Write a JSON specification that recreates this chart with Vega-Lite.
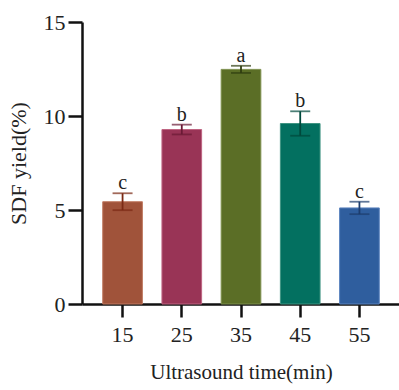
{
  "$schema": "https://vega.github.io/schema/vega-lite/v6.json",
  "autosize": "none",
  "width": 318,
  "height": 282,
  "padding": {"left": 82, "top": 22, "right": 0, "bottom": 86},
  "background": "white",
  "config": {
    "view": {"stroke": null},
    "font": "Liberation Serif",
    "axis": {
      "domainColor": "#111111",
      "domainWidth": 2.5,
      "tickColor": "#111111",
      "tickWidth": 2.5,
      "tickSize": 13,
      "grid": false,
      "labelFont": "Liberation Serif",
      "labelFontSize": 22,
      "labelColor": "#222222",
      "titleFont": "Liberation Serif",
      "titleFontWeight": "normal",
      "titleColor": "#222222"
    }
  },
  "data": {
    "values": [
      {"time": "15", "yield": 5.44, "sd": 0.45, "letter": "c"},
      {"time": "25", "yield": 9.28, "sd": 0.26, "letter": "b"},
      {"time": "35", "yield": 12.48, "sd": 0.19, "letter": "a"},
      {"time": "45", "yield": 9.6, "sd": 0.65, "letter": "b"},
      {"time": "55", "yield": 5.11, "sd": 0.33, "letter": "c"}
    ]
  },
  "transform": [
    {"calculate": "datum.yield - datum.sd", "as": "lo"},
    {"calculate": "datum.yield + datum.sd", "as": "hi"}
  ],
  "encoding": {
    "x": {
      "field": "time",
      "type": "ordinal",
      "scale": {"paddingInner": 0.33, "paddingOuter": 0.35},
      "axis": {"labelAngle": 0, "labelPadding": 7, "title": "Ultrasound time(min)", "titleFontSize": 21, "titlePadding": 16}
    }
  },
  "layer": [
    {
      "mark": {"type": "bar", "strokeWidth": 1},
      "encoding": {
        "y": {
          "field": "yield",
          "type": "quantitative",
          "scale": {"domain": [0, 15], "nice": false},
          "axis": {"values": [0, 5, 10, 15], "title": "SDF yield(%)", "titleFontSize": 22, "labelPadding": 3, "titlePadding": 13, "tickSize": 14}
        },
        "color": {
          "field": "time",
          "type": "nominal",
          "scale": {"range": ["#A0533A", "#993456", "#5B6E26", "#037060", "#2F5E9E"]},
          "legend": null
        },
        "stroke": {
          "field": "time",
          "type": "nominal",
          "scale": {"range": ["#C07A62", "#BE6482", "#7E904E", "#3F9482", "#5A83BE"]},
          "legend": null
        }
      }
    },
    {
      "mark": {"type": "rule", "strokeWidth": 1.8},
      "encoding": {
        "y": {"field": "lo", "type": "quantitative", "scale": {"domain": [0, 15], "nice": false}},
        "y2": {"field": "hi"},
        "color": {
          "field": "time",
          "type": "nominal",
          "scale": {"range": ["#7B2A14", "#6A1A35", "#2F3D10", "#00493C", "#1D3D6E"]},
          "legend": null
        }
      }
    },
    {
      "mark": {"type": "tick", "thickness": 1.8, "size": 20, "orient": "horizontal"},
      "encoding": {
        "y": {"field": "lo", "type": "quantitative", "scale": {"domain": [0, 15], "nice": false}},
        "color": {
          "field": "time",
          "type": "nominal",
          "scale": {"range": ["#7B2A14", "#6A1A35", "#2F3D10", "#00493C", "#1D3D6E"]},
          "legend": null
        }
      }
    },
    {
      "mark": {"type": "tick", "thickness": 1.8, "size": 20, "orient": "horizontal"},
      "encoding": {
        "y": {"field": "hi", "type": "quantitative", "scale": {"domain": [0, 15], "nice": false}},
        "color": {
          "field": "time",
          "type": "nominal",
          "scale": {"range": ["#7B2A14", "#6A1A35", "#2F3D10", "#00493C", "#1D3D6E"]},
          "legend": null
        }
      }
    },
    {
      "mark": {"type": "text", "baseline": "alphabetic", "dy": -4, "fontSize": 20, "font": "Liberation Serif", "color": "#222222"},
      "encoding": {
        "y": {"field": "hi", "type": "quantitative", "scale": {"domain": [0, 15], "nice": false}},
        "text": {"field": "letter"}
      }
    }
  ],
  "resolve": {"scale": {"color": "independent"}}
}
